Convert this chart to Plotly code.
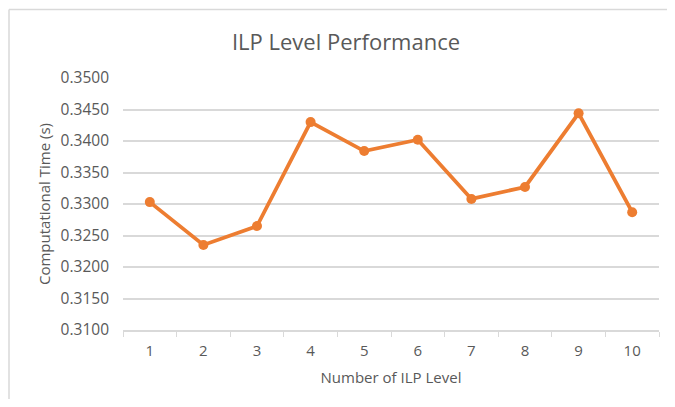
import plotly.graph_objects as go

levels = ["1", "2", "3", "4", "5", "6", "7", "8", "9", "10"]
times = [0.3303, 0.3235, 0.3265, 0.3430, 0.3384, 0.3402, 0.3308, 0.3327, 0.3444, 0.3287]
y_ticks = [0.31, 0.315, 0.32, 0.325, 0.33, 0.335, 0.34, 0.345, 0.35]
y_tick_labels = ["0.3100", "0.3150", "0.3200", "0.3250", "0.3300", "0.3350", "0.3400", "0.3450", "0.3500"]

font_family = "Open Sans, Liberation Sans, sans-serif"
gray = "#595959"

# page body has an 8px margin; figure sized to fit the window without scrollbars
W, H = 659, 391
L, R, T, B = 115, 8, 70, 69
pw, ph = W - L - R, H - T - B

fig = go.Figure()
fig.add_trace(go.Scatter(
    x=levels, y=times, mode="lines+markers",
    line=dict(color="#ED7D31", width=3.8),
    marker=dict(color="#ED7D31", size=10),
    showlegend=False,
))

border_x = -(L - 1) / pw
border_y = 1 + (T - 1.5) / ph

fig.update_layout(
    width=W, height=H,
    margin=dict(l=L, r=R, t=T, b=B),
    paper_bgcolor="white", plot_bgcolor="white",
    title=dict(text="ILP Level Performance", x=(346 - 8) / W, xanchor="center",
               y=1 - (42 - 8) / H, yanchor="middle",
               font=dict(family=font_family, size=22, color=gray)),
    font=dict(family=font_family, color=gray, size=14),
    xaxis=dict(
        type="category", range=[-0.5, len(levels) - 0.5],
        tickson="boundaries", ticks="outside", ticklen=5, tickcolor="#d9d9d9",
        showline=True, linecolor="#d9d9d9", linewidth=1.5, showgrid=False, automargin=False,
        tickfont=dict(size=15, color=gray), ticklabelstandoff=6,
        title=dict(text="Number of ILP Level", font=dict(size=15, color=gray), standoff=14),
    ),
    yaxis=dict(
        range=[0.31, 0.35], tickvals=y_ticks, ticktext=y_tick_labels, automargin=False,
        showgrid=True, gridcolor="#d9d9d9", gridwidth=1.5, zeroline=False, showline=False,
        ticks="", tickfont=dict(size=15.5, color=gray), ticklabelstandoff=13,
        title=dict(text="Computational Time (s)", font=dict(size=15, color=gray), standoff=6),
    ),
    shapes=[
        dict(type="line", xref="paper", yref="paper", x0=border_x, x1=border_x,
             y0=border_y, y1=-(B + 5) / ph, line=dict(color="#d9d9d9", width=1.5), layer="below"),
        dict(type="line", xref="paper", yref="paper", x0=border_x, x1=1 + (R + 5) / pw,
             y0=border_y, y1=border_y, line=dict(color="#d9d9d9", width=1.5), layer="below"),
    ],
)

fig.write_html("out.html")
